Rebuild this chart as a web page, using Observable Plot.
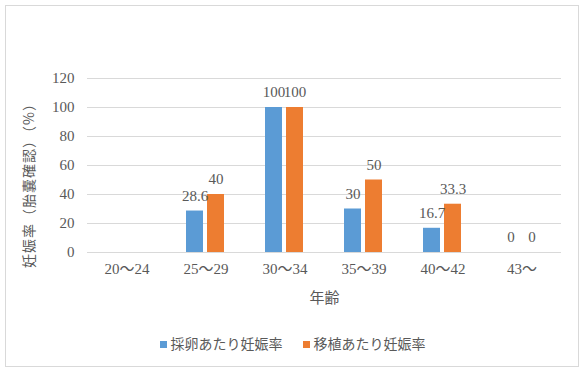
<!DOCTYPE html>
<html><head><meta charset="utf-8">
<script src="https://cdn.jsdelivr.net/npm/d3@7"></script>
<script src="https://cdn.jsdelivr.net/npm/@observablehq/plot@0.6"></script>
<style>
body{margin:0;background:#fff;}
#wrap{position:relative;width:585px;height:371px;overflow:hidden;font-family:"Noto Sans CJK JP",sans-serif;color:#595959;}
#border{position:absolute;left:5px;top:5px;width:572px;height:360px;border:1px solid #d9d9d9;box-sizing:content-box;}
#chart{position:absolute;left:0;top:0;}
#chart svg text{font-family:"Liberation Serif","Noto Sans CJK JP",serif;}
#ylab{position:absolute;left:28px;top:182px;transform:translate(-50%,-50%) rotate(-90deg);white-space:nowrap;font-size:14px;letter-spacing:1px;}
#legend{position:absolute;left:0;top:333px;width:585px;display:flex;justify-content:center;gap:20px;font-size:14px;line-height:20px;}
#legend span.sw{display:inline-block;width:7px;height:7px;margin-right:4px;vertical-align:middle;position:relative;top:-1px;}
</style></head>
<body>
<div id="wrap">
  <div id="border"></div>
  <div id="chart"></div>
  <div id="ylab"></div>
  <div id="legend"></div>
</div>
<script>
const ages = ["20〜24","25〜29","30〜34","35〜39","40〜42","43〜"];
const seriesNames = ["採卵あたり妊娠率","移植あたり妊娠率"];
const perRetrieval = [null, 28.6, 100, 30, 16.7, 0];
const perTransfer = [null, 40, 100, 50, 33.3, 0];
const yTicks = [0, 20, 40, 60, 80, 100, 120];
const colors = ["#5B9BD5", "#ED7D31"];
const yLabel = "妊娠率（胎嚢確認）（%）";
const xLabel = "年齢";

const data = ages.flatMap((a, i) => [
  {age: a, s: seriesNames[0], v: perRetrieval[i]},
  {age: a, s: seriesNames[1], v: perTransfer[i]}
]);
const valued = data.filter(d => d.v != null);

const chart = Plot.plot({
  width: 585, height: 310,
  marginLeft: 85, marginRight: 23, marginTop: 78, marginBottom: 58,
  style: {fontSize: "15px", color: "#595959", background: "transparent", overflow: "visible"},
  fx: {domain: ages, padding: 0},
  x: {domain: seriesNames, paddingInner: 0.18, paddingOuter: 0.9, axis: null},
  y: {domain: [0, 120]},
  color: {domain: seriesNames, range: colors},
  marks: [
    Plot.gridY(yTicks, {stroke: "#d9d9d9", strokeOpacity: 1}),
    Plot.ruleY(data, {fx: "age", y: 0, stroke: "#d9d9d9"}),
    Plot.barY(valued, {fx: "age", x: "s", y: "v", fill: "s"}),
    Plot.text(valued, {fx: "age", x: "s", y: "v", text: d => String(d.v), dy: -15, fill: "#595959", fontSize: 15}),
    Plot.axisY(yTicks, {tickSize: 0, tickPadding: 13, label: null, fill: "#595959", fontSize: 15}),
    Plot.axisFx({anchor: "bottom", tickSize: 0, tickPadding: 11, label: xLabel, labelAnchor: "center", labelOffset: 50, fill: "#595959", fontSize: 15})
  ]
});
document.getElementById("chart").appendChild(chart);
document.getElementById("ylab").textContent = yLabel;
const lg = document.getElementById("legend");
seriesNames.forEach((n, i) => {
  const d = document.createElement("div");
  d.innerHTML = `<span class="sw" style="background:${colors[i]}"></span>${n}`;
  lg.appendChild(d);
});
</script>
</body></html>
